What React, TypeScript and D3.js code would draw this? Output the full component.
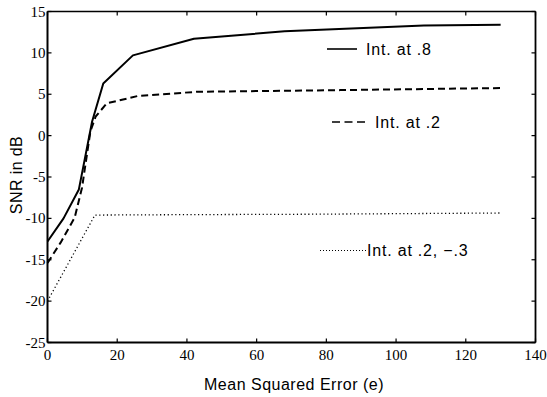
import React from "react";
import * as d3 from "d3";

const xTicks = [0, 20, 40, 60, 80, 100, 120, 140];
const yTicks = [15, 10, 5, 0, -5, -10, -15, -20, -25];

const solidX = [0, 4.6, 9, 12.8, 16, 24.5, 42, 68, 108, 130];
const solidY = [-12.8, -10.0, -6.5, 1.7, 6.3, 9.7, 11.7, 12.6, 13.3, 13.4];

const dashedX = [0, 3.8, 7.8, 9.9, 12.3, 13.8, 17, 26, 43, 84, 130];
const dashedY = [-15.4, -12.9, -9.9, -6.3, 0.5, 2.3, 3.9, 4.8, 5.3, 5.5, 5.75];

const dottedX = [0, 13.6, 40, 75, 130];
const dottedY = [-20, -9.6, -9.55, -9.5, -9.35];

const legendLabels = ["Int. at .8", "Int. at .2", "Int. at .2, \u2212.3"];
const xTitle = "Mean Squared Error (e)";
const yTitle = "SNR in dB";

const W = 547;
const H = 397;
const L = 47.5;
const R = 535.5;
const T = 11.5;
const B = 342.5;

export default function App() {
  const x = d3.scaleLinear().domain([0, 140]).range([L, R]);
  const y = d3.scaleLinear().domain([-25, 15]).range([B, T]);
  const line = d3
    .line<[number, number]>()
    .x((d) => x(d[0]))
    .y((d) => y(d[1]));
  const pts = (xs: number[], ys: number[]) =>
    xs.map((v, i) => [v, ys[i]] as [number, number]);

  const serif = "'Liberation Serif', 'Times New Roman', serif";
  const sans = "'Liberation Sans', Arial, Helvetica, sans-serif";
  const tick = 4;

  return (
    <svg
      width={W}
      height={H}
      style={{ position: "absolute", left: 0, top: 0, background: "#fff" }}
    >
      <rect x={0} y={0} width={W} height={H} fill="#fff" />
      {/* data lines */}
      <path
        d={line(pts(solidX, solidY)) || ""}
        fill="none"
        stroke="#000"
        strokeWidth={2}
        strokeLinejoin="round"
      />
      <path
        d={line(pts(dashedX, dashedY)) || ""}
        fill="none"
        stroke="#000"
        strokeWidth={2}
        strokeDasharray="7 4"
      />
      <path
        d={line(pts(dottedX, dottedY)) || ""}
        fill="none"
        stroke="#000"
        strokeWidth={1.3}
        strokeDasharray="1.2 2.6"
      />

      {/* frame */}
      <line x1={L} y1={T} x2={R} y2={T} stroke="#000" strokeWidth={1.6} />
      <line x1={R} y1={T} x2={R} y2={B} stroke="#000" strokeWidth={1.8} />
      <line x1={L} y1={B} x2={R} y2={B} stroke="#000" strokeWidth={2} />
      <line x1={L} y1={T} x2={L} y2={B} stroke="#000" strokeWidth={2} />

      {/* x ticks */}
      {xTicks.map((t) => (
        <g key={"x" + t}>
          <line x1={x(t)} x2={x(t)} y1={B} y2={B - tick} stroke="#000" strokeWidth={1.2} />
          <line x1={x(t)} x2={x(t)} y1={T} y2={T + tick} stroke="#000" strokeWidth={1.2} />
          <text
            x={x(t)}
            y={359.5}
            textAnchor="middle"
            fontFamily={serif}
            fontSize={15}
            fill="#000"
          >
            {t}
          </text>
        </g>
      ))}
      {/* y ticks */}
      {yTicks.map((t) => (
        <g key={"y" + t}>
          <line x1={L} x2={L + tick} y1={y(t)} y2={y(t)} stroke="#000" strokeWidth={1.2} />
          <line x1={R} x2={R - tick} y1={y(t)} y2={y(t)} stroke="#000" strokeWidth={1.2} />
          <text
            x={L - 2}
            y={y(t) + 5}
            textAnchor="end"
            fontFamily={serif}
            fontSize={15}
            fill="#000"
          >
            {t}
          </text>
        </g>
      ))}

      {/* titles */}
      <text
        x={294}
        y={390}
        textAnchor="middle"
        fontFamily={sans}
        fontSize={16}
        letterSpacing={0.5}
        fill="#000"
      >
        {xTitle}
      </text>
      <text
        transform={`translate(21.5, ${175}) rotate(-90)`}
        textAnchor="middle"
        fontFamily={sans}
        fontSize={16}
        letterSpacing={0.4}
        fill="#000"
      >
        {yTitle}
      </text>

      {/* legend */}
      <line x1={327} x2={357} y1={49} y2={49} stroke="#000" strokeWidth={1.6} />
      <text x={366} y={54.5} fontFamily={sans} fontSize={16} letterSpacing={0.8} fill="#000">
        {legendLabels[0]}
      </text>
      <line
        x1={332}
        x2={366}
        y1={122}
        y2={122}
        stroke="#000"
        strokeWidth={1.5}
        strokeDasharray="8 4.5"
      />
      <text x={375} y={127.5} fontFamily={sans} fontSize={16} letterSpacing={0.8} fill="#000">
        {legendLabels[1]}
      </text>
      <line
        x1={320}
        x2={366}
        y1={250.5}
        y2={250.5}
        stroke="#000"
        strokeWidth={1.1}
        strokeDasharray="1 2"
      />
      <text x={367} y={256} fontFamily={sans} fontSize={16} letterSpacing={0.8} fill="#000">
        {legendLabels[2]}
      </text>
    </svg>
  );
}
